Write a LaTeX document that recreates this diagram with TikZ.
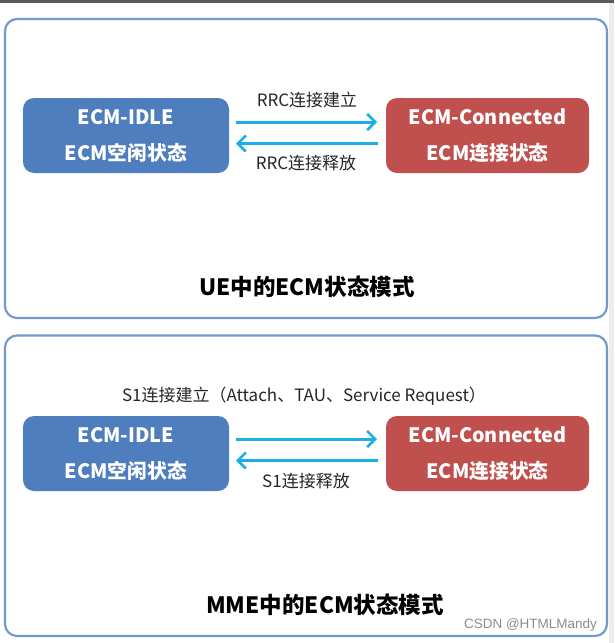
\documentclass[tikz,border=0pt]{standalone}
\usepackage{fontspec}
\setmainfont{Noto Sans CJK SC}
\newfontfamily\wmfont{Liberation Sans}
\usetikzlibrary{arrows.meta}
\definecolor{panelc}{HTML}{729ACF}
\definecolor{idleblue}{HTML}{4F7EBF}
\definecolor{connred}{HTML}{C0504D}
\definecolor{arrowc}{HTML}{1DAEE8}
\definecolor{topbar}{HTML}{5A5A5A}
\definecolor{sidebar}{HTML}{EDEDED}
\tikzset{
  panel/.style={draw=panelc, line width=2.2pt, rounded corners=12pt, fill=white},
  statebox/.style={rounded corners=11pt, minimum width=206pt, minimum height=75pt, inner sep=0pt, text=white, font=\fontsize{19.8}{36}\selectfont\bfseries, align=center},
  lbl/.style={font=\fontsize{17}{19}\selectfont, text=black!85, inner sep=0pt},
  ttl/.style={font=\fontsize{22.5}{25}\selectfont\bfseries, inner sep=0pt},
  trans/.style={draw=arrowc, line width=3pt, -{Straight Barb[length=8pt,width=16pt,line width=2.6pt]}},
}
\begin{document}
\begin{tikzpicture}[x=1pt,y=-1pt]
\useasboundingbox (0,0) rectangle (614,643);
\fill[white] (0,0) rectangle (614,643);
\fill[topbar] (0,0) rectangle (614,2.5);
\fill[sidebar] (609,2.5) rectangle (614,643);
% Panel 1
\draw[panel] (5,19) rectangle (607,318);
\node[statebox, fill=idleblue] (idle1) at (126,135.5) {ECM-IDLE\\ECM空闲状态};
\node[statebox, fill=connred, minimum width=203pt] (conn1) at (487.5,135.5) {ECM-Connected\\ECM连接状态};
\coordinate (a1s) at (236,122);
\coordinate (a1e) at (377,122);
\coordinate (b1s) at (378,143.5);
\coordinate (b1e) at (236,143.5);
\draw[trans] (a1s) -- (a1e);
\draw[trans] (b1s) -- (b1e);
\node[lbl] (up1) at (307,100.5) {RRC连接建立};
\node[lbl] (dn1) at (306,163.5) {RRC连接释放};
\node[ttl] (t1) at (307,287) {UE中的ECM状态模式};
% Panel 2
\draw[panel] (5,335.5) rectangle (607,636);
\node[statebox, fill=idleblue] (idle2) at (126,453.5) {ECM-IDLE\\ECM空闲状态};
\node[statebox, fill=connred, minimum width=203pt] (conn2) at (487.5,453.5) {ECM-Connected\\ECM连接状态};
\coordinate (a2s) at (236,439);
\coordinate (a2e) at (377,439);
\coordinate (b2s) at (378,460.5);
\coordinate (b2e) at (236,460.5);
\draw[trans] (a2s) -- (a2e);
\draw[trans] (b2s) -- (b2e);
\node[lbl] (up2) at (304,396) {S1连接建立（Attach、TAU、Service Request）};
\node[lbl] (dn2) at (306,481.5) {S1连接释放};
\node[ttl] (t2) at (325,605) {MME中的ECM状态模式};
\node[font=\wmfont\fontsize{13.5}{15}\selectfont, text=black!45, inner sep=0pt] (wm) at (530.5,625) {CSDN @HTMLMandy};
\end{tikzpicture}
\end{document}
